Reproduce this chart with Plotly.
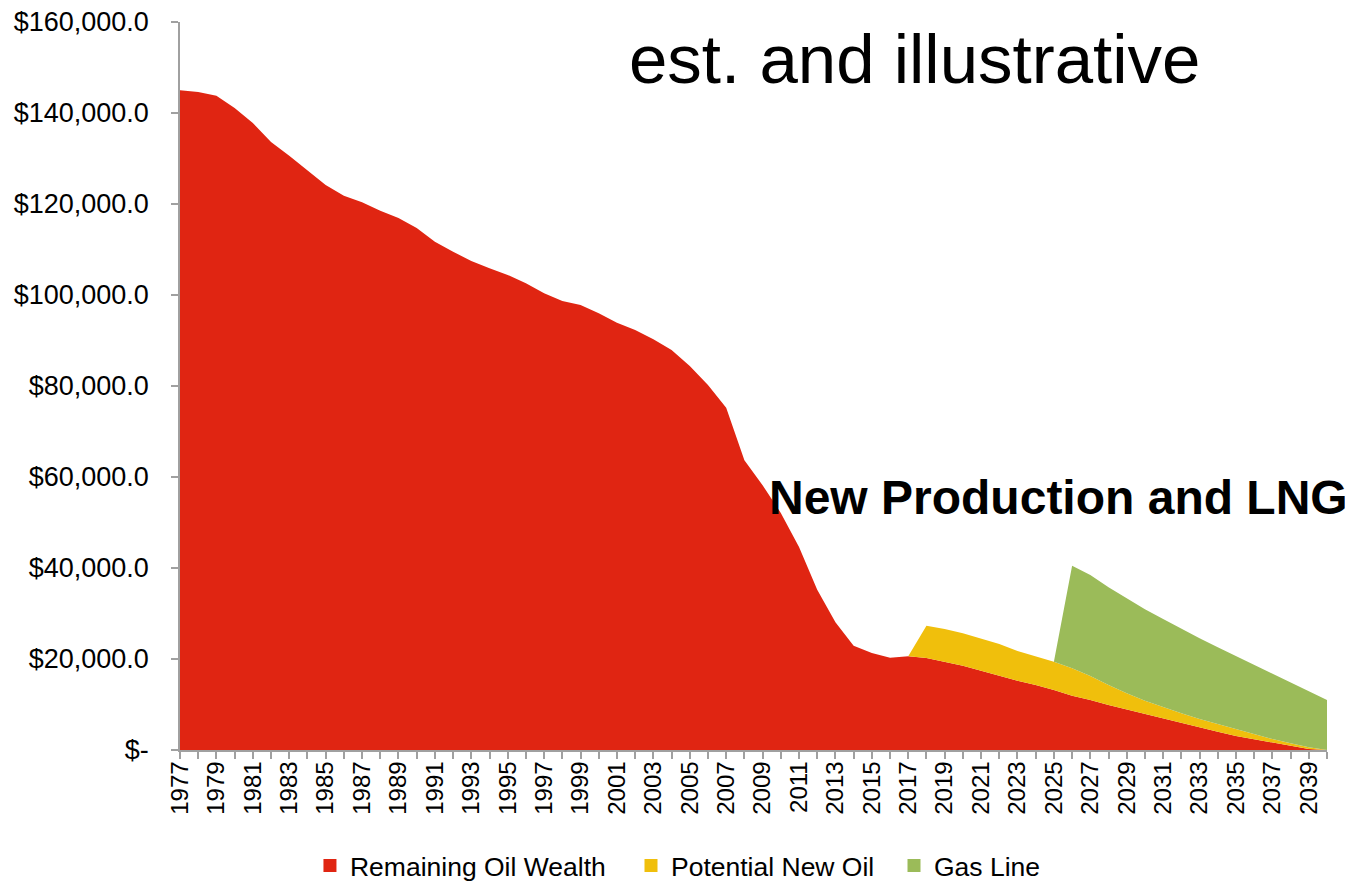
import plotly.graph_objects as go

# ---- data ----
years = list(range(1977, 2041))
remaining_oil = [
    145000, 144600, 143800, 141100, 137800, 133600, 130600, 127500, 124200, 121800,
    120400, 118500, 116900, 114700, 111700, 109500, 107500, 105900, 104400, 102600,
    100400, 98700, 97800, 96000, 93900, 92300, 90300, 87900, 84400, 80200,
    75200, 63700, 58200, 52100, 44600, 35200, 28100, 22900, 21300, 20300,
    20600, 20200, 19400, 18500, 17400, 16300, 15200, 14300, 13200, 11900,
    11000, 9900, 8900, 7900, 7000, 5900, 5000, 4000, 3100, 2400,
    1600, 900, 200, 0,
]
new_oil_years = list(range(2017, 2041))
new_oil = [0, 7100, 7200, 7150, 7150, 7000, 6560, 6200, 6200, 6060, 5260, 4400,
           3560, 2940, 2380, 2160, 1800, 1700, 1500, 1100, 800, 570, 400, 0]
gas_years = list(range(2025, 2041))
gas_line = [0, 22540, 22200, 21460, 20880, 20090, 19410, 18540, 17750, 16870,
            16060, 15180, 14300, 13330, 12370, 11000]

series_names = ["Remaining Oil Wealth", "Potential New Oil", "Gas Line"]
colors = ["#E02512", "#F0BF0C", "#9BBB59"]

y_tickvals = [0, 20000, 40000, 60000, 80000, 100000, 120000, 140000, 160000]


def money(v):
    return "$-" if v == 0 else "${:,.1f}".format(v)


y_ticktext = [money(v) for v in y_tickvals]

FONT = "Liberation Sans, Arial, sans-serif"

fig = go.Figure()
for xs, ys, name, col in [
    (years, remaining_oil, series_names[0], colors[0]),
    (new_oil_years, new_oil, series_names[1], colors[1]),
    (gas_years, gas_line, series_names[2], colors[2]),
]:
    fig.add_trace(go.Scatter(
        x=xs, y=ys, name=name, mode="lines", stackgroup="one",
        line=dict(width=0, color=col), fillcolor=col, showlegend=False,
        hoverinfo="x+y+name",
    ))

# legend entries (square swatches), one legend per entry for exact spacing
legend_ids = ["legend", "legend2", "legend3"]
for name, col, lid in zip(series_names, colors, legend_ids):
    fig.add_trace(go.Scatter(
        x=[None], y=[None], mode="markers", name=name, legend=lid,
        marker=dict(symbol="square", size=13, color=col),
    ))

legend_style = dict(
    orientation="h", xanchor="left", y=-0.159, yanchor="middle",
    font=dict(size=26.5, family=FONT), itemwidth=30, bgcolor="rgba(0,0,0,0)",
)

# the page body adds an 8px offset, so the figure is slightly smaller
fig.update_layout(
    width=1345, height=875,
    margin=dict(l=172, r=26, t=14, b=133, autoexpand=False),
    paper_bgcolor="white", plot_bgcolor="white",
    font=dict(family=FONT, color="#000000"),
    showlegend=True,
    legend=dict(x=0.1133, **legend_style),
    legend2=dict(x=0.3932, **legend_style),
    legend3=dict(x=0.6225, **legend_style),
    xaxis=dict(
        range=[1977, 2040], tick0=1977, dtick=2, tickangle=-90,
        showgrid=False, zeroline=False, automargin=False,
        showline=True, linecolor="#A0A0A0", linewidth=1.5,
        ticks="outside", ticklen=7, tickwidth=1.5, tickcolor="#A0A0A0",
        tickfont=dict(size=24, family=FONT), ticklabelstandoff=-7,
        ticklabeloverflow="allow",
        minor=dict(dtick=1, tick0=1977, ticks="outside", ticklen=7,
                   tickwidth=1.5, tickcolor="#A0A0A0", showgrid=False),
    ),
    yaxis=dict(
        range=[0, 160000], tickmode="array", tickvals=y_tickvals,
        ticktext=y_ticktext, showgrid=False, zeroline=False, automargin=False,
        showline=True, linecolor="#A0A0A0", linewidth=1.5,
        ticks="outside", ticklen=7, tickwidth=1.5, tickcolor="#A0A0A0",
        tickfont=dict(size=27, family=FONT), ticklabelstandoff=17,
        ticklabeloverflow="allow",
    ),
    annotations=[
        dict(text="est. and illustrative", xref="paper", yref="paper",
             x=0.64, y=0.948, xanchor="center", yanchor="middle",
             showarrow=False, font=dict(size=69, family=FONT, color="#000")),
        dict(text="<b>New Production and LNG</b>", xref="paper", yref="paper",
             x=0.766, y=0.3475, xanchor="center", yanchor="middle",
             showarrow=False, font=dict(size=48, family=FONT, color="#000")),
    ],
)

fig.write_html("out.html")
